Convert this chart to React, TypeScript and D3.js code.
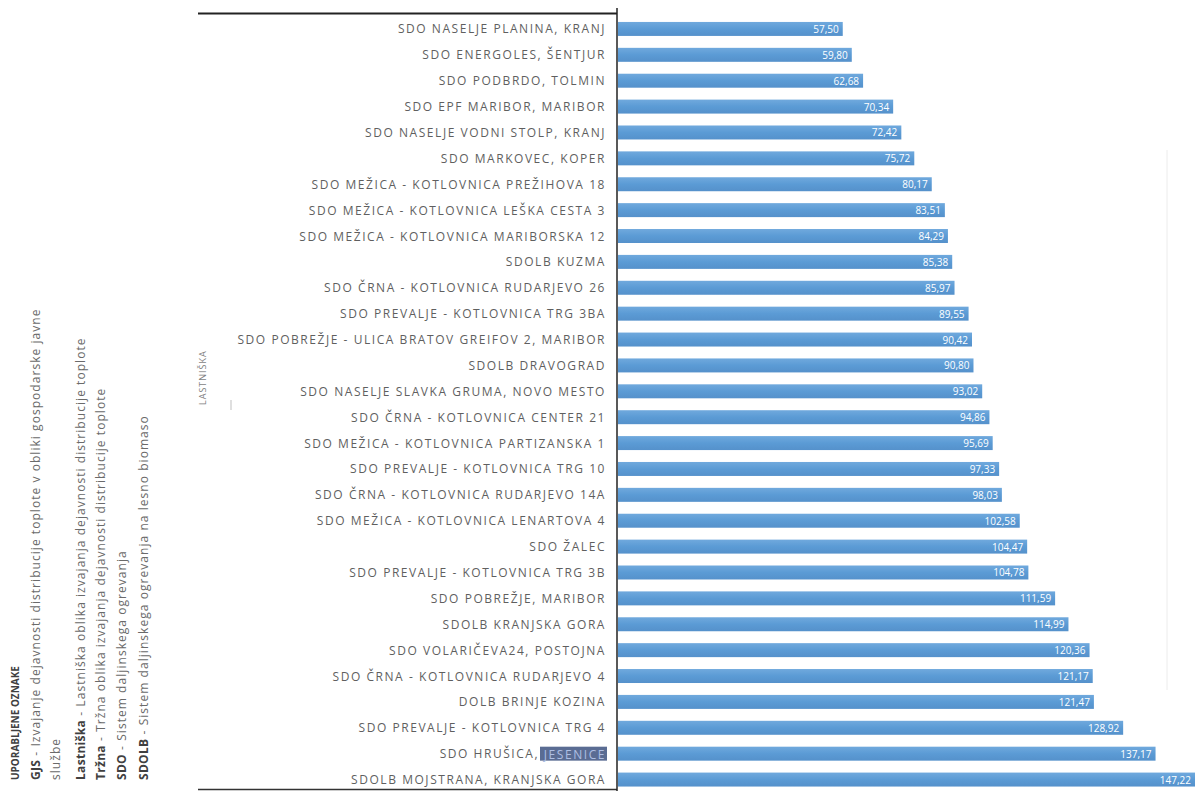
import React from "react";
import * as d3 from "d3";

const categories: string[] = [
  "SDO NASELJE PLANINA, KRANJ",
  "SDO ENERGOLES, ŠENTJUR",
  "SDO PODBRDO, TOLMIN",
  "SDO EPF MARIBOR, MARIBOR",
  "SDO NASELJE VODNI STOLP, KRANJ",
  "SDO MARKOVEC, KOPER",
  "SDO MEŽICA - KOTLOVNICA PREŽIHOVA 18",
  "SDO MEŽICA - KOTLOVNICA LEŠKA CESTA 3",
  "SDO MEŽICA - KOTLOVNICA MARIBORSKA 12",
  "SDOLB KUZMA",
  "SDO ČRNA - KOTLOVNICA RUDARJEVO 26",
  "SDO PREVALJE - KOTLOVNICA TRG 3BA",
  "SDO POBREŽJE - ULICA BRATOV GREIFOV 2, MARIBOR",
  "SDOLB DRAVOGRAD",
  "SDO NASELJE SLAVKA GRUMA, NOVO MESTO",
  "SDO ČRNA - KOTLOVNICA CENTER 21",
  "SDO MEŽICA - KOTLOVNICA PARTIZANSKA 1",
  "SDO PREVALJE - KOTLOVNICA TRG 10",
  "SDO ČRNA - KOTLOVNICA RUDARJEVO 14A",
  "SDO MEŽICA - KOTLOVNICA LENARTOVA 4",
  "SDO ŽALEC",
  "SDO PREVALJE - KOTLOVNICA TRG 3B",
  "SDO POBREŽJE, MARIBOR",
  "SDOLB KRANJSKA GORA",
  "SDO VOLARIČEVA24, POSTOJNA",
  "SDO ČRNA - KOTLOVNICA RUDARJEVO 4",
  "DOLB BRINJE KOZINA",
  "SDO PREVALJE - KOTLOVNICA TRG 4",
  "SDO HRUŠICA, JESENICE",
  "SDOLB MOJSTRANA, KRANJSKA GORA",
];

const values: number[] = [
  57.5, 59.8, 62.68, 70.34, 72.42, 75.72, 80.17, 83.51, 84.29, 85.38,
  85.97, 89.55, 90.42, 90.8, 93.02, 94.86, 95.69, 97.33, 98.03, 102.58,
  104.47, 104.78, 111.59, 114.99, 120.36, 121.17, 121.47, 128.92, 137.17, 147.22,
];

const highlightedWord = "JESENICE";

const legendTitle = "UPORABLJENE OZNAKE";
const legendLines: { key: string; text: string }[] = [
  { key: "GJS", text: " - Izvajanje dejavnosti distribucije toplote v obliki gospodarske javne" },
  { key: "", text: "službe" },
  { key: "Lastniška", text: " - Lastniška oblika izvajanja dejavnosti distribucije toplote" },
  { key: "Tržna", text: " - Tržna oblika izvajanja dejavnosti distribucije toplote" },
  { key: "SDO", text: " - Sistem daljinskega ogrevanja" },
  { key: "SDOLB", text: " - Sistem daljinskega ogrevanja na lesno biomaso" },
];
const groupLabel = "LASTNIŠKA";

const W = 1197;
const H = 791;
const axisX = 617;

export default function App() {
  const x = d3.scaleLinear().domain([0, 147.22]).range([axisX, 1195]);
  const y = d3
    .scaleBand<string>()
    .domain(categories)
    .range([16, 792.5])
    .paddingInner(0.46)
    .paddingOuter(0.23);
  const bw = y.bandwidth();
  const fmt = (v: number) => v.toFixed(2).replace(".", ",");
  const legendXs = [37, 57, 82, 102, 123, 145];

  return (
    <svg
      width={W}
      height={H}
      style={{ position: "absolute", left: 0, top: 0, background: "#fff" }}
      fontFamily="'Open Sans', 'Liberation Sans', sans-serif"
    >
      <defs>
        <linearGradient id="barGrad" x1="0" y1="0" x2="0" y2="1">
          <stop offset="0" stopColor="#70a9dd" />
          <stop offset="0.5" stopColor="#5b9bd5" />
          <stop offset="1" stopColor="#5591cb" />
        </linearGradient>
      </defs>
      <line x1={1167} x2={1167} y1={150} y2={690} stroke="#ececec" strokeWidth={1} />

      <g>
        <text
          transform={`translate(16,780) rotate(-90)`}
          fontSize={10}
          fontWeight="bold"
          fill="#404040"
          dominantBaseline="middle"
        >
          {legendTitle}
        </text>
        {legendLines.map((l, i) => (
          <text
            key={i}
            transform={`translate(${legendXs[i]},780) rotate(-90)`}
            fontSize={12}
            letterSpacing={1.05}
            fill="#6a6a6a"
            dominantBaseline="middle"
          >
            {l.key && (
              <tspan fontWeight="bold" fill="#404040" letterSpacing={0.3}>
                {l.key}
              </tspan>
            )}
            <tspan>{l.text}</tspan>
          </text>
        ))}
      </g>

      <text
        transform={`translate(204,405) rotate(-90)`}
        fontSize={9}
        letterSpacing={1}
        fill="#7f7f7f"
        dominantBaseline="middle"
      >
        {groupLabel}
      </text>
      <line x1={231} x2={231} y1={400} y2={410} stroke="#bfbfbf" strokeWidth={1} />

      <line x1={198} x2={axisX} y1={13.5} y2={13.5} stroke="#222" strokeWidth={2} />
      <line x1={198} x2={axisX} y1={789.5} y2={789.5} stroke="#333" strokeWidth={1.5} />
      <line x1={axisX} x2={axisX} y1={8} y2={791} stroke="#222" strokeWidth={1.5} />

      {categories.map((c, i) => {
        const yy = y(c)!;
        const v = values[i];
        const hasHl = c.endsWith(highlightedWord);
        const head = hasHl ? c.slice(0, c.length - highlightedWord.length) : c;
        return (
          <g key={c}>
            {hasHl && (
              <rect x={540} y={yy} width={67} height={bw} fill="#5a6c93" />
            )}
            <text
              x={606}
              y={yy + bw / 2}
              textAnchor="end"
              dominantBaseline="central"
              fontSize={12}
              fill="#5f5f5f"
              letterSpacing={1.55}
            >
              {head}
              {hasHl && <tspan fill="#aebfe3">{highlightedWord}</tspan>}
            </text>
            <rect x={x(0) + 1} y={yy} width={x(v) - x(0) - 1} height={bw} fill="url(#barGrad)" />
            <text
              x={x(v) - 4}
              y={yy + bw / 2}
              textAnchor="end"
              dominantBaseline="central"
              fontSize={10}
              fill="#ffffff"
            >
              {fmt(v)}
            </text>
          </g>
        );
      })}
    </svg>
  );
}
